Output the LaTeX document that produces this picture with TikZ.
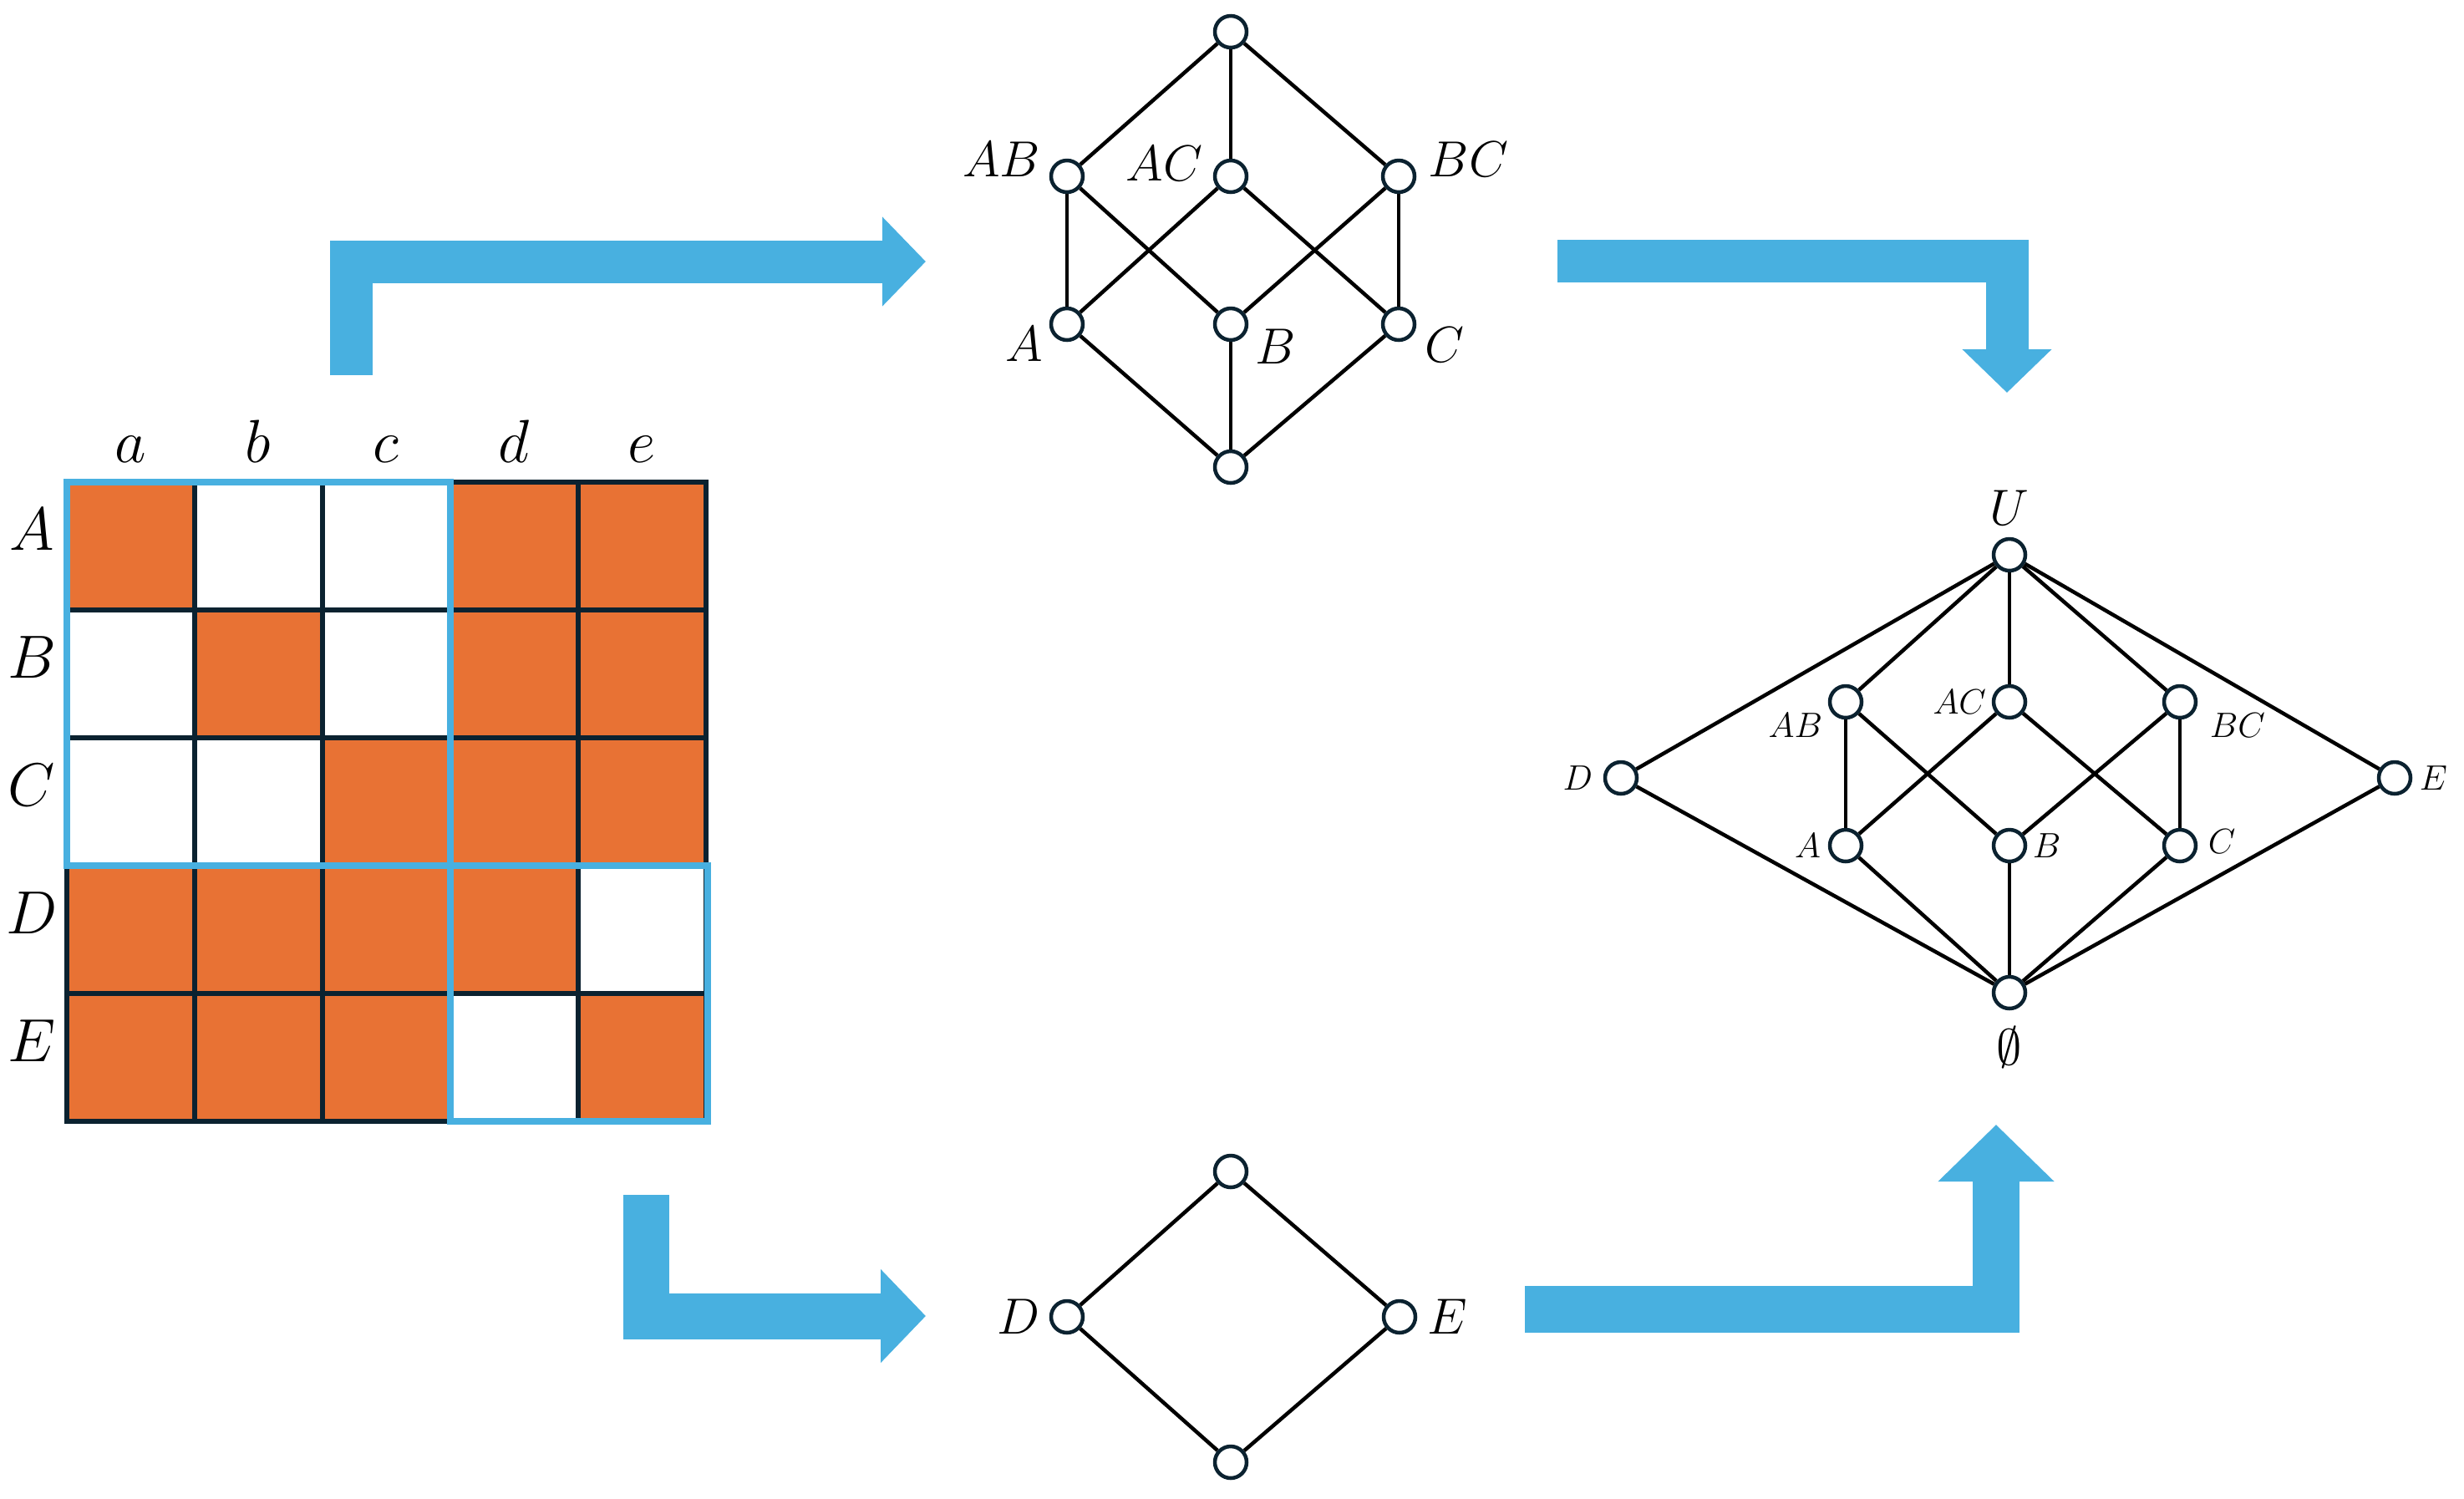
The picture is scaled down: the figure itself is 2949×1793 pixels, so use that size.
\documentclass[tikz,border=0pt]{standalone}
\usetikzlibrary{arrows.meta,positioning}
\definecolor{cellorange}{HTML}{E87234}
\definecolor{flowblue}{HTML}{48B0E0}
\definecolor{gridnavy}{HTML}{0B2230}

\begin{document}
\begin{tikzpicture}[x=0.1mm,y=-0.1mm,line join=miter,
  vert/.style={circle,draw=gridnavy,fill=white,line width=0.45mm,minimum size=3.8mm,inner sep=0pt},
  edge/.style={line width=0.45mm},
  biglbl/.style={inner sep=0pt,font=\fontsize{20}{22}\selectfont},
  lbl/.style={inner sep=0pt,font=\fontsize{18}{20}\selectfont},
  smalllbl/.style={inner sep=0pt,font=\fontsize{13}{15}\selectfont},
  gridline/.style={draw=gridnavy,line width=0.63mm},
  blockline/.style={draw=flowblue,line width=0.87mm},
  flow/.style={draw=flowblue,line width=5.1mm,-{Triangle[length=5.2mm,width=10.4mm]}}]
\useasboundingbox (0,0) rectangle (2949,1793);

% matrix
\fill[cellorange] (80,577) rectangle (845,1342);
\fill[white] (233,577) rectangle (539,730);
\fill[white] (80,730) rectangle (233,883);
\fill[white] (386,730) rectangle (539,883);
\fill[white] (80,883) rectangle (386,1036);
\fill[white] (692,1036) rectangle (845,1189);
\fill[white] (539,1189) rectangle (692,1342);
\draw[gridline] (80,577) rectangle (845,1342)
  (233,577) -- (233,1342) (386,577) -- (386,1342) (539,577) -- (539,1342) (692,577) -- (692,1342)
  (80,730) -- (845,730) (80,883) -- (845,883) (80,1036) -- (845,1036) (80,1189) -- (845,1189);
\draw[blockline] (80,577) rectangle (539,1036);
\draw[blockline] (539,1036) rectangle (847,1342);
\node[biglbl,anchor=base] (ca) at (156,553) {$a$};
\node[biglbl,anchor=base] (cb) at (309,553) {$b$};
\node[biglbl,anchor=base] (cc) at (462,553) {$c$};
\node[biglbl,anchor=base] (cd) at (615,553) {$d$};
\node[biglbl,anchor=base] (ce) at (768,553) {$e$};
\node[biglbl] (ra) at (38,634) {$A$};
\node[biglbl] (rb) at (38,787) {$B$};
\node[biglbl] (rc) at (38,940) {$C$};
\node[biglbl] (rd) at (38,1093) {$D$};
\node[biglbl] (re) at (38,1246) {$E$};

% block arrows
\coordinate (f1s) at (420,449);
\coordinate (f1e) at (1108,313);
\coordinate (f2s) at (1864,312);
\coordinate (f2e) at (2402,470);
\coordinate (f3s) at (773,1430);
\coordinate (f3e) at (1108,1575);
\coordinate (f4s) at (1825,1567);
\coordinate (f4e) at (2389,1346);
\draw[flow] (f1s) |- (f1e);
\draw[flow] (f2s) -| (f2e);
\draw[flow,line width=5.5mm,-{Triangle[length=5.4mm,width=10.9mm]}] (f3s) |- (f3e);
\draw[flow,line width=5.6mm,-{Triangle[length=6.8mm,width=13.5mm]}] (f4s) -| (f4e);

% lattice of A, B, C
\node[vert] (tTop) at (1473,38) {};
\node[vert] (tAB) at (1277,211) {};
\node[vert] (tAC) at (1473,211) {};
\node[vert] (tBC) at (1674,211) {};
\node[vert] (tA) at (1277,388) {};
\node[vert] (tB) at (1473,388) {};
\node[vert] (tC) at (1674,388) {};
\node[vert] (tBot) at (1473,559) {};
\draw[edge] (tTop) -- (tAB);
\draw[edge] (tTop) -- (tAC);
\draw[edge] (tTop) -- (tBC);
\draw[edge] (tAB) -- (tA);
\draw[edge] (tAB) -- (tB);
\draw[edge] (tAC) -- (tA);
\draw[edge] (tAC) -- (tC);
\draw[edge] (tBC) -- (tB);
\draw[edge] (tBC) -- (tC);
\draw[edge] (tA) -- (tBot);
\draw[edge] (tB) -- (tBot);
\draw[edge] (tC) -- (tBot);
\node[lbl,left=1mm of tAB,yshift=2mm] (ltAB) {$AB$};
\node[lbl,left=1.2mm of tAC,yshift=1.5mm] (ltAC) {$AC$};
\node[lbl,right=1.4mm of tBC,yshift=2mm] (ltBC) {$BC$};
\node[lbl,left=0.7mm of tA,yshift=-2.4mm] (ltA) {$A$};
\node[lbl,right=0.8mm of tB,yshift=-2.7mm] (ltB) {$B$};
\node[lbl,right=1mm of tC,yshift=-2.5mm] (ltC) {$C$};

% lattice of D, E
\node[vert] (dTop) at (1473,1402) {};
\node[vert] (dD) at (1277,1576) {};
\node[vert] (dE) at (1675,1576) {};
\node[vert] (dBot) at (1473,1750) {};
\draw[edge] (dTop) -- (dD);
\draw[edge] (dTop) -- (dE);
\draw[edge] (dD) -- (dBot);
\draw[edge] (dE) -- (dBot);
\node[lbl,left=1.1mm of dD] (ldD) {$D$};
\node[lbl,right=1.2mm of dE] (ldE) {$E$};

% combined lattice
\node[vert] (uU) at (2405,664) {};
\node[vert] (uAB) at (2209,840) {};
\node[vert] (uAC) at (2405,840) {};
\node[vert] (uBC) at (2609,840) {};
\node[vert] (uD) at (1940,931) {};
\node[vert] (uE) at (2866,931) {};
\node[vert] (uA) at (2209,1012) {};
\node[vert] (uB) at (2405,1012) {};
\node[vert] (uC) at (2609,1012) {};
\node[vert] (uEmpty) at (2405,1188) {};
\draw[edge] (uU) -- (uD);
\draw[edge] (uU) -- (uAB);
\draw[edge] (uU) -- (uAC);
\draw[edge] (uU) -- (uBC);
\draw[edge] (uU) -- (uE);
\draw[edge] (uAB) -- (uA);
\draw[edge] (uAB) -- (uB);
\draw[edge] (uAC) -- (uA);
\draw[edge] (uAC) -- (uC);
\draw[edge] (uBC) -- (uB);
\draw[edge] (uBC) -- (uC);
\draw[edge] (uD) -- (uEmpty);
\draw[edge] (uA) -- (uEmpty);
\draw[edge] (uB) -- (uEmpty);
\draw[edge] (uC) -- (uEmpty);
\draw[edge] (uE) -- (uEmpty);
\node[lbl,above=1.4mm of uU] (luU) {$U$};
\node[lbl,below=1.9mm of uEmpty] (luEmpty) {$\emptyset$};
\node[smalllbl,left=1.2mm of uD] (luD) {$D$};
\node[smalllbl,right=0.8mm of uE] (luE) {$E$};
\node[smalllbl,left=0.6mm of uAB,yshift=-2.8mm] (luAB) {$AB$};
\node[smalllbl,left=0.6mm of uAC] (luAC) {$AC$};
\node[smalllbl,right=1.4mm of uBC,yshift=-2.8mm] (luBC) {$BC$};
\node[smalllbl,left=0.8mm of uA] (luA) {$A$};
\node[smalllbl,right=0.6mm of uB] (luB) {$B$};
\node[smalllbl,right=1.2mm of uC,yshift=0.5mm] (luC) {$C$};
\end{tikzpicture}
\end{document}
